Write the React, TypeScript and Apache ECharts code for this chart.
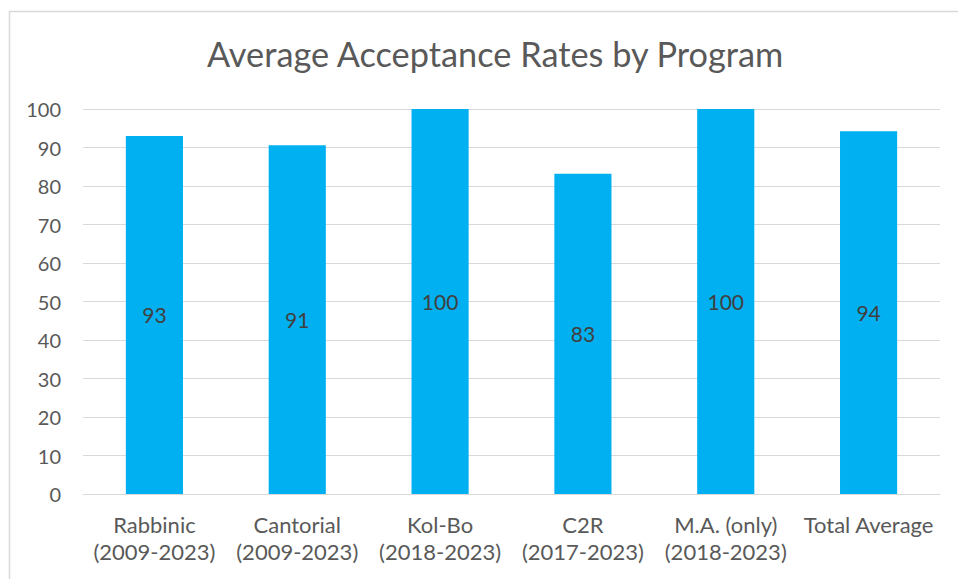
import React, { useEffect, useRef } from "react";
import * as echarts from "echarts";

const categories = [
  "Rabbinic\n(2009-2023)",
  "Cantorial\n(2009-2023)",
  "Kol-Bo\n(2018-2023)",
  "C2R\n(2017-2023)",
  "M.A. (only)\n(2018-2023)",
  "Total Average",
];
const rates = [93.0, 90.6, 100, 83.2, 100, 94.2];
const yTicks = { min: 0, max: 100, interval: 10 };
const title = "Average Acceptance Rates by Program";

export default function App() {
  const ref = useRef<HTMLDivElement>(null);
  useEffect(() => {
    if (!ref.current) return;
    const chart = echarts.init(ref.current, null, { renderer: "svg" });
    const font = "Lato, Carlito, Calibri, sans-serif";
    chart.setOption({
      animation: false,
      backgroundColor: "#ffffff",
      textStyle: { fontFamily: font },
      title: {
        text: title,
        left: 202,
        top: 31,
        textStyle: { fontFamily: font, fontSize: 34.3, fontWeight: "normal", color: "#595959" },
      },
      graphic: [
        {
          type: "rect",
          left: 7,
          top: 9,
          shape: { width: 1000, height: 700 },
          style: { fill: "none", stroke: "#d9d9d9", lineWidth: 1.5 },
          silent: true,
        },
      ],
      grid: { left: 83, right: 18, top: 109, bottom: 85, containLabel: false },
      xAxis: {
        type: "category",
        data: categories,
        axisLine: { lineStyle: { color: "#d9d9d9", width: 1 } },
        axisTick: { show: false },
        axisLabel: {
          color: "#595959",
          fontSize: 22,
          lineHeight: 27,
          margin: 17,
          interval: 0,
          fontFamily: font,
        },
      },
      yAxis: {
        type: "value",
        min: yTicks.min,
        max: yTicks.max,
        interval: yTicks.interval,
        axisLine: { show: false },
        axisTick: { show: false },
        splitLine: { lineStyle: { color: "#d9d9d9", width: 1 } },
        axisLabel: { color: "#595959", fontSize: 20, margin: 22, fontFamily: font },
      },
      series: [
        {
          type: "bar",
          data: rates,
          barWidth: "40%",
          itemStyle: { color: "#00B0F0" },
          label: {
            show: true,
            position: "inside",
            color: "#404040",
            fontSize: 21,
            fontFamily: font,
            formatter: (p: any) => String(Math.round(p.value)),
          },
        },
      ],
    });
    return () => chart.dispose();
  }, []);
  return (
    <div
      ref={ref}
      style={{ position: "fixed", left: 0, top: 0, width: 958, height: 579 }}
    />
  );
}
